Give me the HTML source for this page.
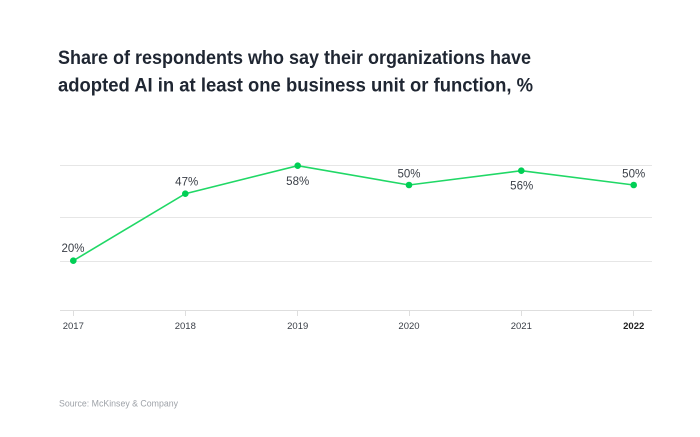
<!DOCTYPE html>
<html>
<head>
<meta charset="utf-8">
<style>
html,body{margin:0;padding:0;background:#fff;}
svg{display:block;}
text{font-family:"Liberation Sans",sans-serif;}
</style>
</head>
<body>
<svg width="700" height="437" viewBox="0 0 700 437" xmlns="http://www.w3.org/2000/svg">
<rect width="700" height="437" fill="#fff"/>
<text x="58" y="64" font-size="19.5" font-weight="bold" fill="#1f2632" textLength="473" lengthAdjust="spacingAndGlyphs">Share of respondents who say their organizations have</text>
<text x="58" y="91.5" font-size="19.5" font-weight="bold" fill="#1f2632" textLength="475" lengthAdjust="spacingAndGlyphs">adopted AI in at least one business unit or function, %</text>

<g stroke="#e6e6e6" stroke-width="1">
<line x1="60" y1="165.5" x2="652" y2="165.5"/>
<line x1="60" y1="217.5" x2="652" y2="217.5"/>
<line x1="60" y1="261.5" x2="652" y2="261.5"/>
<line x1="60" y1="310.5" x2="652" y2="310.5" stroke="#dedede"/>
</g>
<g stroke="#dedede" stroke-width="1">
<line x1="73.5" y1="310" x2="73.5" y2="316"/>
<line x1="185.5" y1="310" x2="185.5" y2="316"/>
<line x1="297.5" y1="310" x2="297.5" y2="316"/>
<line x1="409.5" y1="310" x2="409.5" y2="316"/>
<line x1="521.5" y1="310" x2="521.5" y2="316"/>
<line x1="633.5" y1="310" x2="633.5" y2="316"/>
</g>

<polyline points="73.3,260.7 185.3,193.7 297.7,165.7 409,185 521.3,170.7 633.7,185" fill="none" stroke="#20d866" stroke-width="1.6"/>
<g fill="#00cf55">
<circle cx="73.3" cy="260.7" r="3.3"/>
<circle cx="185.3" cy="193.7" r="3.3"/>
<circle cx="297.7" cy="165.7" r="3.3"/>
<circle cx="409" cy="185" r="3.3"/>
<circle cx="521.3" cy="170.7" r="3.3"/>
<circle cx="633.7" cy="185" r="3.3"/>
</g>

<g font-size="11.5" fill="#3a3f47" text-anchor="middle">
<text x="73" y="252">20%</text>
<text x="186.7" y="185.7">47%</text>
<text x="297.7" y="185">58%</text>
<text x="409" y="177.3">50%</text>
<text x="521.7" y="189.3">56%</text>
<text x="633.7" y="177.3">50%</text>
</g>

<g font-size="9.5" fill="#3a3f47" text-anchor="middle">
<text x="73.3" y="329">2017</text>
<text x="185.3" y="329">2018</text>
<text x="297.7" y="329">2019</text>
<text x="409" y="329">2020</text>
<text x="521.3" y="329">2021</text>
<text x="633.7" y="329" font-weight="bold" fill="#222">2022</text>
</g>

<text x="59" y="406.5" font-size="9" fill="#9ea2a8" textLength="119" lengthAdjust="spacingAndGlyphs">Source: McKinsey &amp; Company</text>
</svg>
</body>
</html>
